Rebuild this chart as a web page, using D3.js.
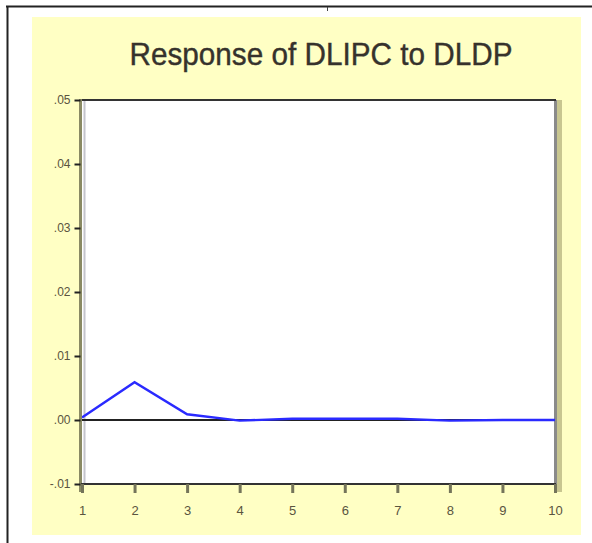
<!DOCTYPE html>
<html><head><meta charset="utf-8">
<script src="https://cdn.jsdelivr.net/npm/d3@7"></script>
<style>body{margin:0;background:#fff}svg{display:block}</style>
</head><body>
<script>
const periods = [1,2,3,4,5,6,7,8,9,10];
const response = [0.0004,0.0059,0.0009,-0.0001,0.0002,0.0002,0.0002,-0.0001,0.0000,0.0000];
const yTicks = [-0.01,0.00,0.01,0.02,0.03,0.04,0.05];
const yTickLabels = ["-.01",".00",".01",".02",".03",".04",".05"];
const xTickLabels = ["1","2","3","4","5","6","7","8","9","10"];
const title = "Response of DLIPC to DLDP";

const W=592,H=543;
const svg=d3.select("body").append("svg").attr("width",W).attr("height",H);
svg.append("rect").attr("x",0).attr("y",0).attr("width",W).attr("height",H).attr("fill","#fff");
svg.append("line").attr("x1",6).attr("x2",W).attr("y1",6.5).attr("y2",6.5).attr("stroke","#222").attr("stroke-width",2);
svg.append("line").attr("x1",7.5).attr("x2",7.5).attr("y1",6).attr("y2",H).attr("stroke","#222").attr("stroke-width",2);
svg.append("line").attr("x1",327.5).attr("x2",327.5).attr("y1",7).attr("y2",11).attr("stroke","#444").attr("stroke-width",1);
svg.append("rect").attr("x",32).attr("y",17).attr("width",549).attr("height",518).attr("fill","#ffffc4");
svg.append("text").attr("x",321).attr("y",65).attr("text-anchor","middle")
  .attr("font-family","Liberation Sans, Arial, sans-serif").attr("font-size",32)
  .attr("textLength",383).attr("lengthAdjust","spacingAndGlyphs")
  .attr("fill","#36322c").attr("stroke","#36322c").attr("stroke-width",0.4).text(title);

const L=81,R=555,T=100,B=484;
const x=d3.scaleLinear().domain([1,10]).range([82,555]);
const y=d3.scaleLinear().domain([-0.01,0.05]).range([B,T]);

svg.append("rect").attr("x",L).attr("y",T).attr("width",R-L).attr("height",B-T).attr("fill","#fff");
svg.append("rect").attr("x",557).attr("y",T).attr("width",5).attr("height",B-T+8).attr("fill","#c8c690");
svg.append("line").attr("x1",555.5).attr("x2",555.5).attr("y1",T).attr("y2",B+1).attr("stroke","#8a8a8a").attr("stroke-width",3);
svg.append("line").attr("x1",84.5).attr("x2",84.5).attr("y1",T+1).attr("y2",B).attr("stroke","#c4c4cc").attr("stroke-width",2);
svg.append("line").attr("x1",L-1).attr("x2",R+1).attr("y1",100).attr("y2",100).attr("stroke","#333").attr("stroke-width",2);

svg.append("line").attr("x1",L).attr("x2",R).attr("y1",y(0)).attr("y2",y(0)).attr("stroke","#222").attr("stroke-width",2);

svg.append("path").datum(periods.map((p,i)=>[p,response[i]]))
  .attr("d",d3.line().x(d=>x(d[0])).y(d=>y(d[1])))
  .attr("fill","none").attr("stroke","#2a2aff").attr("stroke-width",2.4);

const ya=svg.append("g").attr("transform",`translate(80.5,0)`)
  .call(d3.axisLeft(y).tickValues(yTicks).tickFormat((d,i)=>yTickLabels[i]).tickSize(6).tickPadding(4));
ya.select(".domain").attr("stroke","#8a8a64").attr("stroke-width",3).attr("d",`M0,${T-1}V${B+8}`);
ya.selectAll(".tick line").attr("stroke","#222").attr("stroke-width",2);
ya.selectAll(".tick text").attr("font-family","Liberation Sans, Arial, sans-serif").attr("font-size",12).attr("fill","#5a5440");

const xa=svg.append("g").attr("transform",`translate(0,${B})`)
  .call(d3.axisBottom(x).tickValues(periods).tickFormat((d,i)=>xTickLabels[i]).tickSize(9).tickPadding(13));
xa.select(".domain").attr("stroke","#333").attr("stroke-width",2).attr("d",`M${L},0H${R+1}`);
xa.selectAll(".tick line").attr("stroke","#74745a").attr("stroke-width",3);
xa.selectAll(".tick text").attr("font-family","Liberation Sans, Arial, sans-serif").attr("font-size",13).attr("fill","#5a5440");
</script>
</body></html>
